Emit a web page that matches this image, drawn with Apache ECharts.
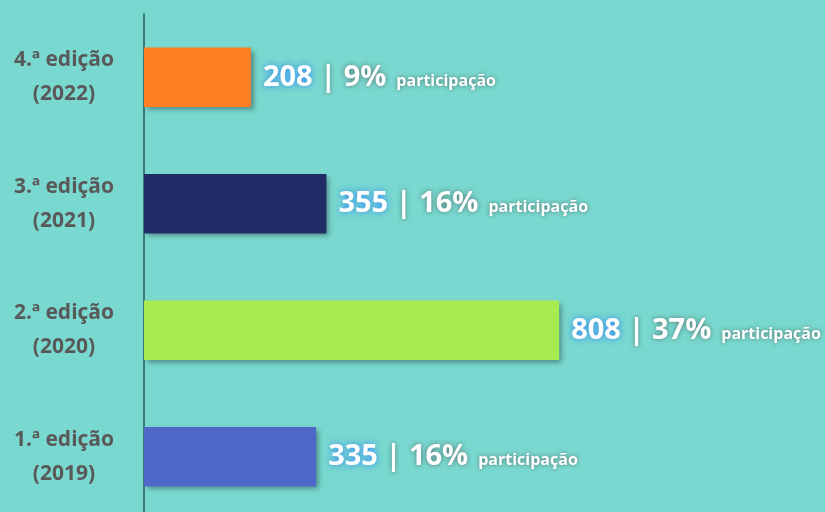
<!DOCTYPE html>
<html><head><meta charset="utf-8">
<script src="https://cdn.jsdelivr.net/npm/echarts@6/dist/echarts.min.js"></script>
<style>html,body{margin:0;padding:0;background:#79d8cf;}#c{width:825px;height:512px;}</style>
</head><body><div id="c"></div>
<script>
const categories = ['1.ª edição\n(2019)', '2.ª edição\n(2020)', '3.ª edição\n(2021)', '4.ª edição\n(2022)'];
const values = [335, 808, 355, 208];
const shares = ['16%', '37%', '16%', '9%'];
const colors = ['#4f67c8', '#a8eb50', '#202d66', '#fd7f23'];

const chart = echarts.init(document.getElementById('c'));
chart.setOption({
  backgroundColor: '#79d8cf',
  grid: { left: 144, top: 14, width: 668, height: 506, containLabel: false, outerBoundsMode: 'none' },
  xAxis: { type: 'value', min: 0, max: 1300, show: false },
  yAxis: {
    type: 'category', data: categories,
    axisLine: { show: true, lineStyle: { color: '#2a5a55', width: 1.5 } },
    axisTick: { show: false },
    axisLabel: { margin: 80, color: '#595959', fontSize: 21, fontWeight: 'bold', fontFamily: 'Open Sans', lineHeight: 34, align: 'center', padding: [4, 0, 0, 0] }
  },
  series: [{
    type: 'bar',
    barCategoryGap: '53%',
    data: values.map((v, i) => ({ value: v, itemStyle: { color: colors[i] } })),
    itemStyle: { shadowColor: 'rgba(0,0,0,0.35)', shadowBlur: 5, shadowOffsetX: 3, shadowOffsetY: 3 },
    label: {
      show: true, position: 'right', distance: 12,
      formatter: p => '{n|' + p.value + '}{s| | ' + shares[p.dataIndex] + '}{g| }{p|participação}',
      rich: {
        n: { color: '#fff', fontSize: 29, fontWeight: 'bold', fontFamily: 'Open Sans', textShadowColor: '#2f86f5', textShadowBlur: 7 },
        s: { color: '#fff', fontSize: 29, fontWeight: 'bold', fontFamily: 'Open Sans', textShadowColor: 'rgba(60,60,60,0.6)', textShadowBlur: 5 },
        g: { fontSize: 29, width: 10 },
        p: { color: '#fff', fontSize: 16, fontWeight: 'bold', fontFamily: 'Open Sans', textShadowColor: 'rgba(60,60,60,0.6)', textShadowBlur: 4, padding: [8, 0, 0, 0] }
      }
    }
  }]
});
</script></body></html>
